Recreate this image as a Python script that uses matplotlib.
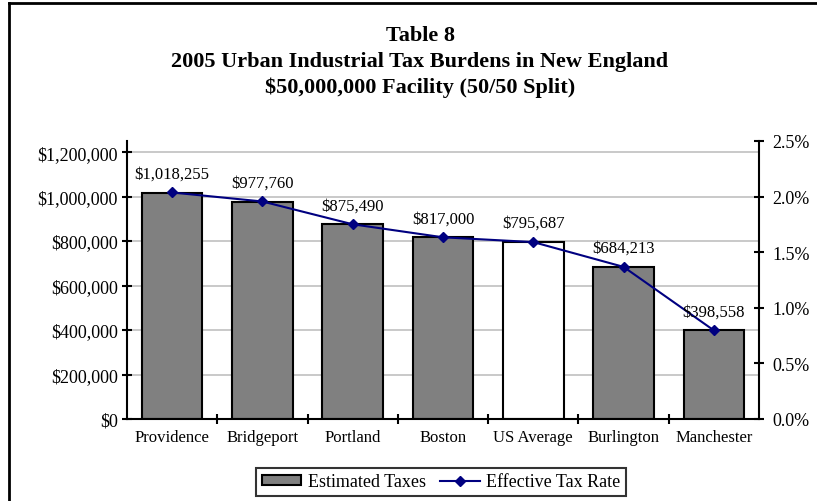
import matplotlib
matplotlib.use("Agg")
import matplotlib.pyplot as plt
from matplotlib.lines import Line2D
from matplotlib.ticker import FuncFormatter, MultipleLocator, FixedLocator

cities = ["Providence", "Bridgeport", "Portland", "Boston", "US Average", "Burlington", "Manchester"]
taxes = [1018255, 977760, 875490, 817000, 795687, 684213, 398558]
tax_rate = [2.037, 1.956, 1.751, 1.634, 1.591, 1.368, 0.797]  # percent of $50M
bar_colors = ["#808080", "#808080", "#808080", "#808080", "#ffffff", "#808080", "#808080"]

title_lines = ["Table 8",
               "2005 Urban Industrial Tax Burdens in New England",
               "$50,000,000 Facility (50/50 Split)"]

plt.rcParams["font.family"] = ["Liberation Serif", "DejaVu Serif"]

W, H = 817, 502
fig = plt.figure(figsize=(W / 100, H / 100), dpi=100)
ax = fig.add_axes([127 / W, 1 - 420 / H, (759 - 127) / W, (420 - 142) / H])

x = list(range(len(cities)))
ax.bar(x, taxes, width=0.67, color=bar_colors, edgecolor="black", linewidth=1.5,
       zorder=2, label="Estimated Taxes")
ax.set_xlim(-0.5, len(cities) - 0.5)
ax.set_ylim(0, 1250000)
ax.yaxis.set_major_locator(FixedLocator(range(0, 1200001, 200000)))
ax.yaxis.set_major_formatter(FuncFormatter(lambda v, p: f"${v:,.0f}"))
ax.grid(axis="y", color="#c0c0c0", linewidth=1.2, zorder=0)
ax.set_axisbelow(True)

ax.set_xticks(x)
ax.set_xticklabels(cities, fontsize=12)
ax.xaxis.set_minor_locator(FixedLocator([i + 0.5 for i in range(len(cities) - 1)]))
ax.tick_params(axis="x", which="major", length=0, pad=7)
ax.tick_params(axis="x", which="minor", direction="inout", length=7, width=1.5)
ax.tick_params(axis="y", direction="inout", length=7, width=1.5, labelsize=13, pad=3)

for s in ["top", "right"]:
    ax.spines[s].set_visible(False)
for s in ["left", "bottom"]:
    ax.spines[s].set_linewidth(1.5)

ax2 = ax.twinx()
ax2.plot(x, tax_rate, color="#000080", linewidth=1.5, marker="D", markersize=5.5,
         zorder=3, label="Effective Tax Rate")
ax2.set_ylim(0, 2.5)
ax2.yaxis.set_major_locator(MultipleLocator(0.5))
ax2.yaxis.set_major_formatter(FuncFormatter(lambda v, p: f"{v:.1f}%"))
ax2.tick_params(axis="y", direction="inout", length=7, width=1.5, labelsize=13, pad=6)
for s in ["top", "left", "bottom"]:
    ax2.spines[s].set_visible(False)
ax2.spines["right"].set_linewidth(1.5)

for xi, t, r in zip(x, taxes, tax_rate):
    ax2.annotate(f"${t:,.0f}", (xi, r), xytext=(0, 19), textcoords="offset pixels",
                 ha="center", va="center", fontsize=12)

# title
fig.text(420 / W, 1 - 62 / H, "\n".join(title_lines), ha="center", va="center",
         fontsize=16, fontweight="bold", linespacing=1.4)

# legend
h1, l1 = ax.get_legend_handles_labels()
h2, l2 = ax2.get_legend_handles_labels()
leg = fig.legend(h1 + h2, l1 + l2, loc="center", bbox_to_anchor=(441 / W, 1 - 483 / H),
                 ncol=2, fontsize=13, frameon=True, fancybox=False, handlelength=2.2,
                 handleheight=0.5, handletextpad=0.35, columnspacing=0.8,
                 borderpad=0.3, borderaxespad=0)
leg.get_frame().set_edgecolor("black")
leg.get_frame().set_linewidth(1.5)

# outer chart frame (only left and top edges visible in the crop)
fig.add_artist(Line2D([8.5 / W, 8.5 / W], [0, 1 - 3.5 / H], transform=fig.transFigure,
                      color="black", linewidth=2))
fig.add_artist(Line2D([8.5 / W, 1], [1 - 3.5 / H, 1 - 3.5 / H], transform=fig.transFigure,
                      color="black", linewidth=2))

fig.savefig("out.png", dpi=100)
